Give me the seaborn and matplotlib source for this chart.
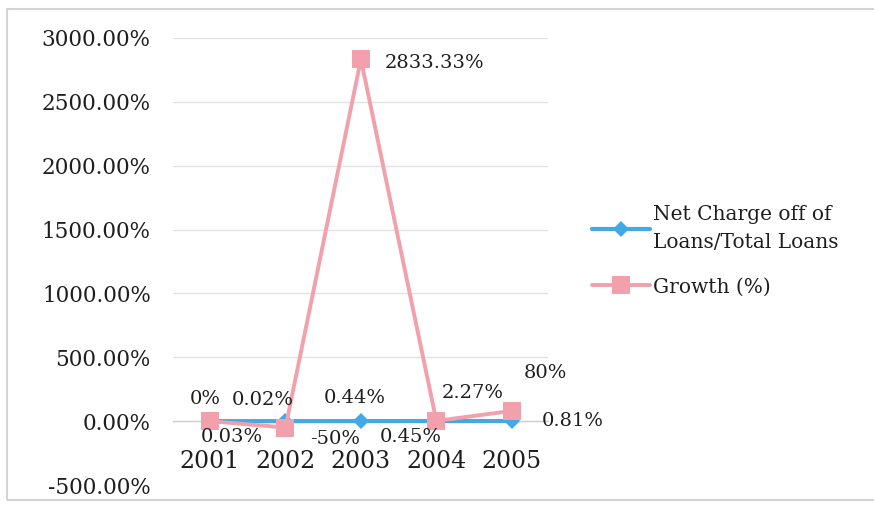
import matplotlib
matplotlib.use("Agg")
import matplotlib.pyplot as plt
from matplotlib.patches import Rectangle
import numpy as np
import pandas as pd
import seaborn as sns

# Yearly figures (percent)
years = ["2001", "2002", "2003", "2004", "2005"]
net_charge_off = [0.03, 0.015, 0.44, 0.45, 0.81]
growth = [0.0, -50.0, 2833.33, 2.27, 80.0]

net_labels = ["0.03%", "0.02%", "0.44%", "0.45%", "0.81%"]
growth_labels = ["0%", "-50%", "2833.33%", "2.27%", "80%"]

series_names = ["Net Charge off of\nLoans/Total Loans", "Growth (%)"]
y_ticks = [-500, 0, 500, 1000, 1500, 2000, 2500, 3000]

blue = "#41A9E6"
pink = "#F2A0AC"
text_color = "#1E1E1E"

sns.set_theme(style="white")
plt.rcParams["font.family"] = ["DejaVu Serif"]

df = pd.DataFrame({
    "pos": np.arange(len(years)),
    "net": net_charge_off,
    "growth": growth,
})

fig = plt.figure(figsize=(8.74, 5.12), dpi=100)
ax = fig.add_axes([0.198, 0.0527, 0.429, 0.8731])

sns.lineplot(data=df, x="pos", y="net", ax=ax, color=blue, lw=3,
             marker="D", markersize=8, markeredgewidth=0,
             label=series_names[0], zorder=3)
sns.lineplot(data=df, x="pos", y="growth", ax=ax, color=pink, lw=2.8,
             marker="s", markersize=13, markeredgewidth=0,
             label=series_names[1], zorder=4)

# Category axis sits on the zero line
for side in ["top", "right", "left"]:
    ax.spines[side].set_visible(False)
ax.spines["bottom"].set_position(("data", 0))
ax.spines["bottom"].set_color("#D0D0D0")
ax.spines["bottom"].set_linewidth(1)
ax.spines["bottom"].set_zorder(1)

ax.set_xlim(-0.49, 4.48)
ax.set_ylim(-500, 3000)
ax.set_yticks(y_ticks)
ax.set_yticklabels([f"{v:.2f}%" for v in y_ticks], fontsize=15.5,
                   color=text_color)
ax.set_xticks(df["pos"])
ax.set_xticklabels(years, fontsize=17, color=text_color)
ax.set_xlabel("")
ax.set_ylabel("")
ax.tick_params(axis="y", length=0, pad=16)
ax.tick_params(axis="x", length=0, pad=21)

ax.yaxis.grid(True, color="#E2E2E2", lw=1)
ax.set_axisbelow(True)
for loc, gl in zip(ax.get_yticks(), ax.get_ygridlines()):
    if loc < 0:
        gl.set_visible(False)

# Data labels, offsets in points from each marker
px = 0.72
net_offsets = [(22, -16), (-23, 21), (-6, 23), (-26, -16), (61, 0)]
growth_offsets = [(-5, 22), (50, -11), (74, -4), (36, 28), (34, 38)]
for i in range(len(years)):
    ax.annotate(net_labels[i], (df["pos"][i], net_charge_off[i]),
                xytext=(net_offsets[i][0] * px, net_offsets[i][1] * px),
                textcoords="offset points", ha="center", va="center",
                fontsize=14, color=text_color, zorder=6)
    ax.annotate(growth_labels[i], (df["pos"][i], growth[i]),
                xytext=(growth_offsets[i][0] * px, growth_offsets[i][1] * px),
                textcoords="offset points", ha="center", va="center",
                fontsize=14, color=text_color, zorder=6)

leg = ax.legend(loc="upper left", bbox_to_anchor=(0.668, 0.615),
                bbox_transform=fig.transFigure, frameon=False,
                fontsize=14.5, handlelength=2.9, handletextpad=0.15,
                labelspacing=1.25, borderaxespad=0)
for t in leg.get_texts():
    t.set_color(text_color)
    t.set_linespacing(1.6)

# Chart frame
fig.patches.append(Rectangle((7 / 874, 12 / 512), 1.0, 491 / 512,
                             transform=fig.transFigure, fill=False,
                             edgecolor="#D4D4D4", lw=1.5))

fig.savefig("out.png", dpi=100)
